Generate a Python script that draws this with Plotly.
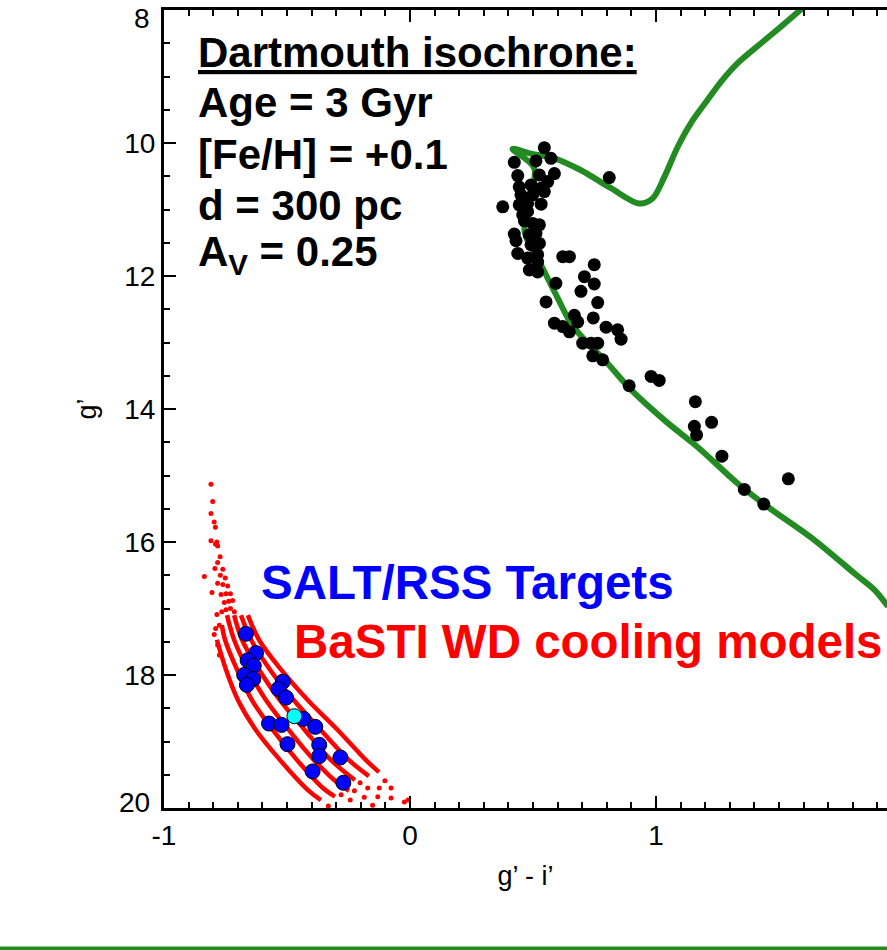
import plotly.graph_objects as go

# ---------------- data ----------------
# Dartmouth isochrone (g'-i', g'), from lower main sequence to the giant branch
iso_color = [1.943, 1.888, 1.806, 1.644, 1.454, 1.332, 1.169, 1.041, 0.898, 0.790,
             0.722, 0.654, 0.600, 0.539, 0.466, 0.505, 0.417, 0.492, 0.587, 0.695,
             0.817, 0.932, 0.987, 1.034, 1.088, 1.142, 1.210, 1.264, 1.332, 1.427,
             1.508, 1.596]
iso_mag = [16.97, 16.72, 16.47, 15.97, 15.47, 15.12, 14.57, 14.19, 13.71, 13.26,
           13.01, 12.71, 12.33, 11.88, 11.33, 10.38, 10.09, 10.16, 10.23, 10.41,
           10.68, 10.91, 10.83, 10.51, 10.06, 9.70, 9.35, 9.08, 8.80, 8.50,
           8.25, 7.97]

# cluster members
star_color = [0.546, 0.424, 0.512, 0.573, 0.587, 0.438, 0.526, 0.560, 0.444, 0.492,
              0.533, 0.451, 0.499, 0.546, 0.377, 0.444, 0.478, 0.533, 0.458, 0.478,
              0.465, 0.499, 0.526, 0.424, 0.431, 0.485, 0.512, 0.492, 0.526, 0.438,
              0.478, 0.519, 0.519, 0.485, 0.519, 0.621, 0.648, 0.593, 0.553, 0.810,
              0.749, 0.709, 0.749, 0.695, 0.763, 0.668, 0.745, 0.587, 0.621, 0.648,
              0.682, 0.797, 0.844, 0.858, 0.702, 0.736, 0.763, 0.743, 0.783, 0.891,
              0.980, 1.013, 1.160, 1.156, 1.165, 1.226, 1.268, 1.359, 1.438, 1.538]
star_mag = [10.07, 10.29, 10.27, 10.23, 10.46, 10.49, 10.48, 10.58, 10.66, 10.63,
            10.68, 10.78, 10.78, 10.73, 10.96, 10.93, 10.91, 10.92, 11.08, 11.03,
            11.17, 11.21, 11.23, 11.37, 11.47, 11.38, 11.36, 11.53, 11.51, 11.66,
            11.73, 11.68, 11.79, 11.91, 11.94, 11.71, 11.71, 12.11, 12.39, 10.52,
            11.83, 12.01, 12.12, 12.23, 12.40, 12.59, 12.63, 12.71, 12.76, 12.84,
            12.69, 12.77, 12.81, 12.95, 13.01, 13.01, 13.01, 13.20, 13.26, 13.65,
            13.51, 13.57, 13.89, 14.26, 14.39, 14.20, 14.71, 15.21, 15.43, 15.05]

# SALT/RSS white dwarf targets
wd_color = [-0.667, -0.626, -0.660, -0.635, -0.674, -0.637, -0.663, -0.517, -0.535,
            -0.504, -0.433, -0.573, -0.522, -0.385, -0.498, -0.369, -0.369, -0.283,
            -0.396, -0.271]
wd_mag = [17.38, 17.67, 17.78, 17.86, 18.00, 18.06, 18.15, 18.10, 18.21,
          18.34, 18.66, 18.73, 18.75, 18.78, 19.04, 19.05, 19.22, 19.24,
          19.45, 19.62]
special_color = [-0.470]
special_mag = [18.62]

# BaSTI WD cooling sequences (densely sampled parts)
cool_tracks = [
    ([-0.785, -0.748, -0.699, -0.626, -0.528, -0.415, -0.362],
     [17.47, 17.92, 18.38, 18.83, 19.28, 19.73, 19.88]),
    ([-0.765, -0.752, -0.703, -0.642, -0.557, -0.459, -0.354, -0.305],
     [17.25, 17.47, 17.92, 18.38, 18.83, 19.28, 19.70, 19.83]),
    ([-0.744, -0.715, -0.659, -0.585, -0.492, -0.390, -0.289, -0.248],
     [17.10, 17.47, 17.92, 18.38, 18.83, 19.28, 19.64, 19.74]),
    ([-0.715, -0.683, -0.614, -0.528, -0.427, -0.321, -0.224],
     [17.10, 17.47, 17.92, 18.38, 18.83, 19.28, 19.58]),
    ([-0.687, -0.646, -0.569, -0.472, -0.362, -0.248, -0.167],
     [17.10, 17.47, 17.92, 18.38, 18.83, 19.28, 19.52]),
    ([-0.659, -0.614, -0.524, -0.415, -0.293, -0.179, -0.126],
     [17.10, 17.47, 17.92, 18.38, 18.83, 19.28, 19.46]),
]
# sparse model points (bright ends and faint tails)
cool_dot_color = [-0.809, -0.802, -0.809, -0.796, -0.791, -0.809, -0.791, -0.782, -0.785,
                  -0.772, -0.782, -0.793, -0.761, -0.836, -0.771, -0.751, -0.782, -0.761,
                  -0.741, -0.805, -0.768, -0.748, -0.730, -0.755, -0.737, -0.721, -0.785,
                  -0.765, -0.748, -0.730, -0.714, -0.775, -0.796, -0.790, -0.782, -0.775,
                  -0.332, -0.280, -0.243, -0.226, -0.186, -0.152, -0.172, -0.125,
                  -0.077, -0.131, -0.077, -0.023, -0.203, -0.102, -0.008]
cool_dot_mag = [15.13, 15.39, 15.57, 15.70, 15.78, 15.98, 16.03, 16.06, 16.00,
                16.22, 16.31, 16.40, 16.41, 16.52, 16.50, 16.54, 16.62, 16.64,
                16.66, 16.76, 16.79, 16.78, 16.78, 16.91, 16.89, 16.88, 17.09,
                17.05, 17.02, 17.00, 17.05, 17.25, 17.39, 17.30, 17.55, 17.70,
                19.97, 19.80, 19.88, 19.74, 19.84, 19.96, 19.70, 19.70,
                19.70, 19.83, 19.85, 19.91, 19.62, 19.59, 19.88]

x_ticks = [-1, 0, 1]
y_ticks = [8, 10, 12, 14, 16, 18, 20]
y_labelled = [10, 12, 14, 16, 18]

# ---------------- figure ----------------
GREEN = "#228b22"
FONT = "Liberation Sans, Arial, Helvetica, sans-serif"
TICK_FONT = dict(family=FONT, size=28, color="black")

fig = go.Figure()

for cx, cy in cool_tracks:
    fig.add_trace(go.Scatter(x=cx, y=cy, mode="lines",
                             line=dict(color="#ff0000", width=4.5, shape="spline"),
                             hoverinfo="skip"))
fig.add_trace(go.Scatter(x=cool_dot_color, y=cool_dot_mag, mode="markers",
                         marker=dict(color="#ff0000", size=5)))

fig.add_trace(go.Scatter(x=iso_color, y=iso_mag, mode="lines",
                         line=dict(color=GREEN, width=6, shape="spline",
                                   smoothing=0.9)))

fig.add_trace(go.Scatter(x=star_color, y=star_mag, mode="markers",
                         marker=dict(color="black", size=13)))

fig.add_trace(go.Scatter(x=wd_color, y=wd_mag, mode="markers",
                         marker=dict(color="#0000ff", size=15,
                                     line=dict(color="black", width=1))))
fig.add_trace(go.Scatter(x=special_color, y=special_mag, mode="markers",
                         marker=dict(color="#00ffff", size=15,
                                     line=dict(color="black", width=1))))

# empty trace so the top axis is laid out
fig.add_trace(go.Scatter(x=[None], y=[None], xaxis="x2", showlegend=False))

L, R, T, B = 164, 0, 10, 142
W, H = 887, 950
PW, PH = W - L - R, H - T - B
X_RANGE = [-1, -1 + PW / 246.0]


def px(xp):
    return (xp - L) / PW


def py(yp):
    return (H - B - yp) / PH


info_lines = [
    ("Dartmouth isochrone:", 52),
    ("Age = 3 Gyr", 103),
    ("[Fe/H] = +0.1", 154),
    ("d = 300 pc", 205),
    ("A<sub>V</sub> = 0.25", 254),
]
annotations = []
for i, (txt, yc) in enumerate(info_lines):
    f = dict(family=FONT, size=42, color="black", weight="bold")
    if i == 0:
        f["lineposition"] = "under"
    annotations.append(dict(text=txt, xref="paper", yref="paper",
                            x=px(196), y=py(yc), xanchor="left", yanchor="middle",
                            showarrow=False, font=f))

annotations.append(dict(text="SALT/RSS Targets", xref="paper", yref="paper",
                        x=px(259), y=py(582), xanchor="left", yanchor="middle",
                        showarrow=False,
                        font=dict(family=FONT, size=47.5, color="#0000ff", weight="bold")))
annotations.append(dict(text="BaSTI WD cooling models", xref="paper", yref="paper",
                        x=px(292), y=py(641), xanchor="left", yanchor="middle",
                        showarrow=False,
                        font=dict(family=FONT, size=47.5, color="#ff0000", weight="bold")))

# end labels of the magnitude axis sit just inside the frame
annotations.append(dict(text="8", xref="paper", yref="paper", x=px(152), y=py(19),
                        xanchor="right", yanchor="middle", showarrow=False,
                        font=TICK_FONT))
annotations.append(dict(text="20", xref="paper", yref="paper", x=px(152), y=py(802),
                        xanchor="right", yanchor="middle", showarrow=False,
                        font=TICK_FONT))

fig.update_layout(
    width=W, height=H,
    margin=dict(l=L, r=R, t=T, b=B, pad=0),
    paper_bgcolor="white", plot_bgcolor="white",
    showlegend=False,
    font=dict(family=FONT, size=28, color="black"),
    annotations=annotations,
    shapes=[dict(type="line", xref="paper", yref="paper",
                 x0=px(-5), x1=px(W + 5), y0=py(948.3), y1=py(948.3),
                 line=dict(color=GREEN, width=3.5))],
    xaxis2=dict(overlaying="x", side="top", anchor="y", matches="x",
                range=X_RANGE, tickvals=x_ticks, showticklabels=False,
                ticks="inside", ticklen=12, tickwidth=2, tickcolor="black",
                minor=dict(dtick=0.1, ticks="inside", ticklen=6, tickwidth=2,
                           tickcolor="black"),
                showline=True, linewidth=3, linecolor="black",
                showgrid=False, zeroline=False),
)

fig.layout.xaxis.update(
    range=X_RANGE, tickvals=x_ticks, ticktext=[str(v) for v in x_ticks],
    ticks="inside", ticklen=12, tickwidth=2, tickcolor="black",
    minor=dict(dtick=0.1, ticks="inside", ticklen=6, tickwidth=2, tickcolor="black"),
    showline=True, linewidth=3, linecolor="black", mirror=False,
    showgrid=False, zeroline=False, tickfont=TICK_FONT,
    title=dict(text="g’ - i’", font=dict(family=FONT, size=27, color="black"),
               standoff=17),
)
fig.layout.yaxis.update(
    range=[20, 8], tickvals=y_labelled, ticktext=[str(v) for v in y_labelled],
    ticks="inside", ticklen=12, tickwidth=2, tickcolor="black",
    minor=dict(dtick=0.5, ticks="inside", ticklen=6, tickwidth=2, tickcolor="black"),
    showline=True, linewidth=3, linecolor="black", mirror=False,
    showgrid=False, zeroline=False, tickfont=TICK_FONT,
    title=dict(text="g’", font=dict(family=FONT, size=27, color="black"),
               standoff=20),
)

fig.write_html("out.html")
